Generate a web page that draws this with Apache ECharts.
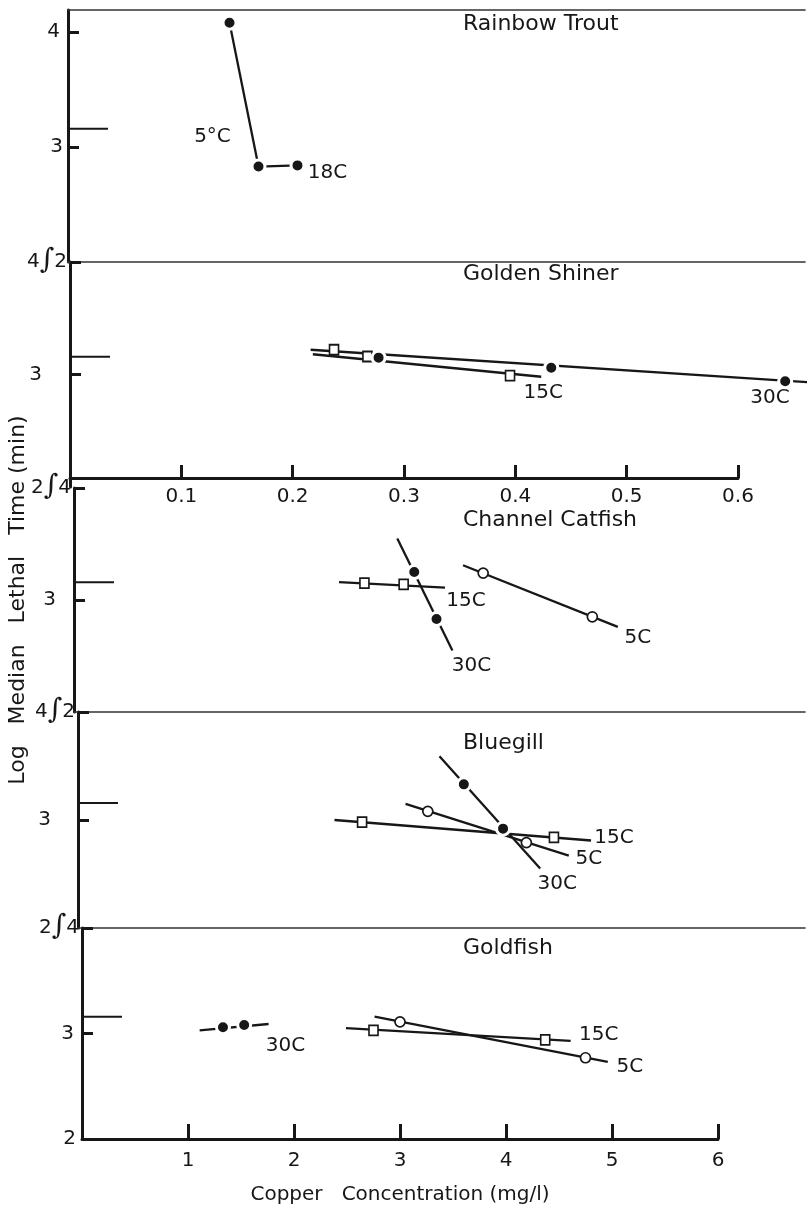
<!DOCTYPE html>
<html>
<head>
<meta charset="utf-8">
<title>Copper toxicity by species and temperature</title>
<script src="https://cdn.jsdelivr.net/npm/echarts@6/dist/echarts.min.js"></script>
<style>
  html, body { margin: 0; padding: 0; background: #ffffff; }
  #chart { width: 812px; height: 1215px; }
</style>
</head>
<body>
<div id="chart"></div>
<script>
// ---- Data: copper concentration (mg/l) vs log median lethal time (min) ----

// Rainbow trout, 18 C (points joined in order)
const troutConc18 = [0.145, 0.171, 0.206];
const troutLog18  = [4.08, 2.83, 2.84];

// Golden shiner
const shinerConc15 = [0.237, 0.267, 0.395];
const shinerLog15  = [3.22, 3.16, 2.99];
const shinerFitConc15 = [0.218, 0.423];
const shinerFitLog15  = [3.18, 2.98];
const shinerConc30 = [0.277, 0.432, 0.642];
const shinerLog30  = [3.15, 3.06, 2.94];
const shinerFitConc30 = [0.216, 0.664];
const shinerFitLog30  = [3.22, 2.93];

// Channel catfish
const catfishConc15 = [2.74, 3.11];
const catfishLog15  = [3.15, 3.14];
const catfishFitConc15 = [2.50, 3.50];
const catfishFitLog15  = [3.16, 3.11];
const catfishConc30 = [3.21, 3.42];
const catfishLog30  = [3.25, 2.83];
const catfishFitConc30 = [3.05, 3.57];
const catfishFitLog30  = [3.55, 2.55];
const catfishConc5 = [3.86, 4.89];
const catfishLog5  = [3.24, 2.85];
const catfishFitConc5 = [3.67, 5.13];
const catfishFitLog5  = [3.31, 2.76];

// Bluegill
const bluegillConc30 = [3.64, 4.01];
const bluegillLog30  = [3.33, 2.92];
const bluegillFitConc30 = [3.41, 4.36];
const bluegillFitLog30  = [3.59, 2.55];
const bluegillConc5 = [3.30, 4.23];
const bluegillLog5  = [3.08, 2.79];
const bluegillFitConc5 = [3.09, 4.63];
const bluegillFitLog5  = [3.15, 2.67];
const bluegillConc15 = [2.68, 4.49];
const bluegillLog15  = [2.98, 2.84];
const bluegillFitConc15 = [2.42, 4.84];
const bluegillFitLog15  = [3.00, 2.81];

// Goldfish
const goldfishConc30 = [1.33, 1.53];
const goldfishLog30  = [3.06, 3.08];
const goldfishFitConc30 = [1.11, 1.76];
const goldfishFitLog30  = [3.03, 3.09];
const goldfishConc15 = [2.75, 4.37];
const goldfishLog15  = [3.03, 2.94];
const goldfishFitConc15 = [2.49, 4.61];
const goldfishFitLog15  = [3.05, 2.93];
const goldfishConc5 = [3.00, 4.75];
const goldfishLog5  = [3.11, 2.77];
const goldfishFitConc5 = [2.76, 4.96];
const goldfishFitLog5  = [3.16, 2.73];

// 24-hour reference level, log10(1440 min)
const log24h = 3.158;

// Panel names
const panelNames = ['Rainbow Trout', 'Golden Shiner', 'Channel Catfish', 'Bluegill', 'Goldfish'];

// Axis tick values and labels
const lowConcTicks  = [0.1, 0.2, 0.3, 0.4, 0.5, 0.6];
const lowConcLabels = ['0.1', '0.2', '0.3', '0.4', '0.5', '0.6'];
const highConcTicks  = [1, 2, 3, 4, 5, 6];
const highConcLabels = ['1', '2', '3', '4', '5', '6'];

const troutYTicks    = [3, 4];
const troutYLabels   = ['3', '4'];
const shinerYTicks   = [3, 4];
const shinerYLabels  = ['3', '4∫2'];
const catfishYTicks  = [3, 4];
const catfishYLabels = ['3', '2∫4'];
const bluegillYTicks = [3, 4];
const bluegillYLabels = ['3', '4∫2'];
const goldfishYTicks  = [3, 4];
const goldfishYLabelValues = [2, 3, 4];
const goldfishYLabels = ['2', '3', '2∫4'];

const xTitle = 'Copper   Concentration (mg/l)';
const yTitle = 'Log   Median   Lethal   Time (min)';

// ---- Styling / layout ----
const INK = '#171717';
const FONT = 'DejaVu Sans';
const LOW_PX = 1114;   // px per mg/l on the 0-0.6 scale
const HIGH_PX = 106;   // px per mg/l on the 0-6 scale

// Panels 0-4 hold the data; panel 5 only carries the 0-0.6 scale under the shiner panel
const grids = [
  { left: 68, top: 10,  width: 737, height: 252 },
  { left: 70, top: 262, width: 735, height: 225 },
  { left: 74, top: 488, width: 731, height: 224 },
  { left: 78, top: 712, width: 727, height: 216 },
  { left: 82, top: 928, width: 636, height: 211 },
  { left: 70, top: 262, width: 668, height: 225 }
];

const chart = echarts.init(document.getElementById('chart'), null, { renderer: 'canvas' });

function yAxis(gridIndex, max, ticks, labelValues, labels, pads, extra) {
  return Object.assign({
    type: 'value', gridIndex, min: 2, max,
    axisLine: { show: true, lineStyle: { color: INK, width: 3 } },
    axisTick: { show: true, inside: true, length: 11, customValues: ticks,
                lineStyle: { color: INK, width: 3 } },
    splitLine: { show: false },
    axisLabel: {
      customValues: labelValues, margin: 3, color: INK,
      fontFamily: FONT, fontSize: 20,
      formatter: function (v) {
        const i = labelValues.findIndex(function (t) { return Math.abs(t - v) < 1e-6; });
        if (i < 0) return '';
        const txt = labels[i];
        const pad = pads[i] || 0;
        if (txt.indexOf('∫') >= 0) {
          const parts = txt.split('∫');
          return '{n|' + parts[0] + '}{s|∫}{n|' + parts[1] + '}';
        }
        return '{p' + pad + '|' + txt + '}';
      },
      rich: (function () {
        const r = {
          n: { fontFamily: FONT, fontSize: 20, color: INK },
          s: { fontFamily: 'DejaVu Serif', fontSize: 28, color: INK, padding: [0, 0, 2, 0] }
        };
        pads.forEach(function (p) {
          r['p' + p] = { fontFamily: FONT, fontSize: 20, color: INK, padding: [0, p, 0, 0] };
        });
        return r;
      })()
    }
  }, extra || {});
}

function hiddenY(gridIndex) {
  return { type: 'value', gridIndex, min: 2, max: 4, show: false };
}

function dividerX(gridIndex, max, position) {
  return {
    type: 'value', gridIndex, min: 0, max, position,
    axisLine: { show: true, lineStyle: { color: '#333', width: 1.6 } },
    axisTick: { show: false }, axisLabel: { show: false }, splitLine: { show: false }
  };
}

function scaleX(gridIndex, max, ticks, labels, tickLen, labelMargin, extra) {
  return Object.assign({
    type: 'value', gridIndex, min: 0, max, position: 'bottom',
    axisLine: { show: true, lineStyle: { color: INK, width: 3 } },
    axisTick: { show: true, inside: true, length: tickLen, customValues: ticks,
                lineStyle: { color: INK, width: 3 } },
    axisLabel: {
      customValues: ticks, margin: labelMargin, color: INK, fontFamily: FONT, fontSize: 20,
      formatter: function (v) {
        const i = ticks.findIndex(function (t) { return Math.abs(t - v) < 1e-6; });
        return i < 0 ? '' : labels[i];
      }
    },
    splitLine: { show: false }
  }, extra || {});
}

const xAxes = [
  dividerX(0, grids[0].width / LOW_PX, 'top'),                      // 0: top frame line
  dividerX(0, grids[0].width / LOW_PX, 'bottom'),                   // 1: trout / shiner divider
  { type: 'value', gridIndex: 1, min: 0, max: grids[1].width / LOW_PX, show: false }, // 2: shiner data
  dividerX(2, grids[2].width / HIGH_PX, 'bottom'),                  // 3: catfish / bluegill divider
  dividerX(3, grids[3].width / HIGH_PX, 'bottom'),                  // 4: bluegill / goldfish divider
  scaleX(4, 6, highConcTicks, highConcLabels, 15, 12, {             // 5: mg/l scale 0-6
    name: xTitle, nameLocation: 'middle', nameGap: 46, nameMoveOverlap: false,
    nameTextStyle: { fontFamily: FONT, fontSize: 20, color: INK }
  }),
  scaleX(5, 0.6, lowConcTicks, lowConcLabels, 13, 9, { offset: -9 }) // 6: mg/l scale 0-0.6
];

const yAxes = [
  yAxis(0, 4 + 22 / 115, troutYTicks, troutYTicks, troutYLabels, [2, 5]),
  yAxis(1, 4, shinerYTicks, shinerYTicks, shinerYLabels, [25, 0]),
  yAxis(2, 4, catfishYTicks, catfishYTicks, catfishYLabels, [15, 0], {
    name: yTitle, nameLocation: 'middle', nameGap: 45, nameRotate: 90, nameMoveOverlap: false,
    nameTextStyle: { fontFamily: FONT, fontSize: 22, color: INK }
  }),
  yAxis(3, 4, bluegillYTicks, bluegillYTicks, bluegillYLabels, [24, 0]),
  yAxis(4, 4, goldfishYTicks, goldfishYLabelValues, goldfishYLabels, [3, 5, 0]),
  hiddenY(5)
];

const panelX = [1, 2, 3, 4, 5];

function zip(xs, ys) { return xs.map(function (x, i) { return [x, ys[i]]; }); }

const labelText = { fontFamily: FONT, fontSize: 20, color: INK };

function fitLine(panel, xs, ys, text, offset) {
  return {
    type: 'line', xAxisIndex: panelX[panel], yAxisIndex: panel,
    data: zip(xs, ys), symbol: 'none', clip: false, silent: true, z: 2,
    lineStyle: { color: INK, width: 2.3 },
    endLabel: Object.assign({
      show: true, formatter: text, distance: 0, offset,
      align: 'center', verticalAlign: 'middle'
    }, labelText)
  };
}

function points(panel, xs, ys, kind) {
  const filled = kind === 'filled';
  return {
    type: 'scatter', xAxisIndex: panelX[panel], yAxisIndex: panel,
    data: zip(xs, ys), clip: false, silent: true, z: 4,
    symbol: kind === 'square' ? 'rect' : 'circle',
    symbolSize: filled ? 13 : (kind === 'square' ? [9, 10] : 10),
    itemStyle: filled
      ? { color: INK, borderColor: '#ffffff', borderWidth: 3, opacity: 1 }
      : { color: '#ffffff', borderColor: INK, borderWidth: 1.7, opacity: 1 }
  };
}

// 24 h reference tick on each panel
function dayMark(panel, len) {
  return {
    type: 'line', xAxisIndex: panelX[panel], yAxisIndex: panel,
    data: [[0, log24h], [len, log24h]], symbol: 'none', silent: true, z: 3,
    lineStyle: { color: INK, width: 2 }
  };
}

// Trout series: joined points, labelled at its middle and end points
const troutData = zip(troutConc18, troutLog18).map(function (p, i) {
  if (i === 1) {
    return { value: p, label: Object.assign({ show: true, formatter: '5°C', position: 'inside',
             offset: [-46, -30] }, labelText) };
  }
  return p;
});

const series = [
  dayMark(0, 40 / LOW_PX), dayMark(1, 40 / LOW_PX), dayMark(2, 40 / HIGH_PX),
  dayMark(3, 40 / HIGH_PX), dayMark(4, 40 / HIGH_PX),
  {
    type: 'line', xAxisIndex: 1, yAxisIndex: 0, data: troutData, clip: false, silent: true, z: 4,
    symbol: 'circle', symbolSize: 13, showAllSymbol: true,
    itemStyle: { color: INK, borderColor: '#ffffff', borderWidth: 3, opacity: 1 },
    lineStyle: { color: INK, width: 2.3 },
    endLabel: Object.assign({ show: true, formatter: '18C', distance: 0, offset: [30, 7],
                align: 'center', verticalAlign: 'middle' }, labelText)
  },

  fitLine(1, shinerFitConc15, shinerFitLog15, '15C', [2, 16]),
  fitLine(1, shinerFitConc30, shinerFitLog30, '30C', [-37, 16]),
  points(1, shinerConc15, shinerLog15, 'square'),
  points(1, shinerConc30, shinerLog30, 'filled'),

  fitLine(2, catfishFitConc15, catfishFitLog15, '15C', [21, 13]),
  fitLine(2, catfishFitConc30, catfishFitLog30, '30C', [19, 15]),
  fitLine(2, catfishFitConc5, catfishFitLog5, '5C', [20, 11]),
  points(2, catfishConc15, catfishLog15, 'square'),
  points(2, catfishConc30, catfishLog30, 'filled'),
  points(2, catfishConc5, catfishLog5, 'open'),

  fitLine(3, bluegillFitConc15, bluegillFitLog15, '15C', [23, -3]),
  fitLine(3, bluegillFitConc5, bluegillFitLog5, '5C', [20, 3]),
  fitLine(3, bluegillFitConc30, bluegillFitLog30, '30C', [17, 15]),
  points(3, bluegillConc15, bluegillLog15, 'square'),
  points(3, bluegillConc5, bluegillLog5, 'open'),
  points(3, bluegillConc30, bluegillLog30, 'filled'),

  fitLine(4, goldfishFitConc30, goldfishFitLog30, '30C', [17, 22]),
  fitLine(4, goldfishFitConc15, goldfishFitLog15, '15C', [28, -6]),
  fitLine(4, goldfishFitConc5, goldfishFitLog5, '5C', [22, 5]),
  points(4, goldfishConc30, goldfishLog30, 'filled'),
  points(4, goldfishConc15, goldfishLog15, 'square'),
  points(4, goldfishConc5, goldfishLog5, 'open')
];

const titleTops = [13, 263, 509, 732, 937];
const titles = panelNames.map(function (t, i) {
  return { text: t, left: 463, top: titleTops[i], padding: 0,
           textStyle: { fontFamily: FONT, fontSize: 22, fontWeight: 'normal', color: INK } };
});

chart.setOption({
  backgroundColor: '#ffffff',
  animation: false,
  title: titles,
  grid: grids.map(function (g) {
    return Object.assign({ containLabel: false, outerBoundsMode: 'none' }, g);
  }),
  xAxis: xAxes,
  yAxis: yAxes,
  series
});
</script>
</body>
</html>
